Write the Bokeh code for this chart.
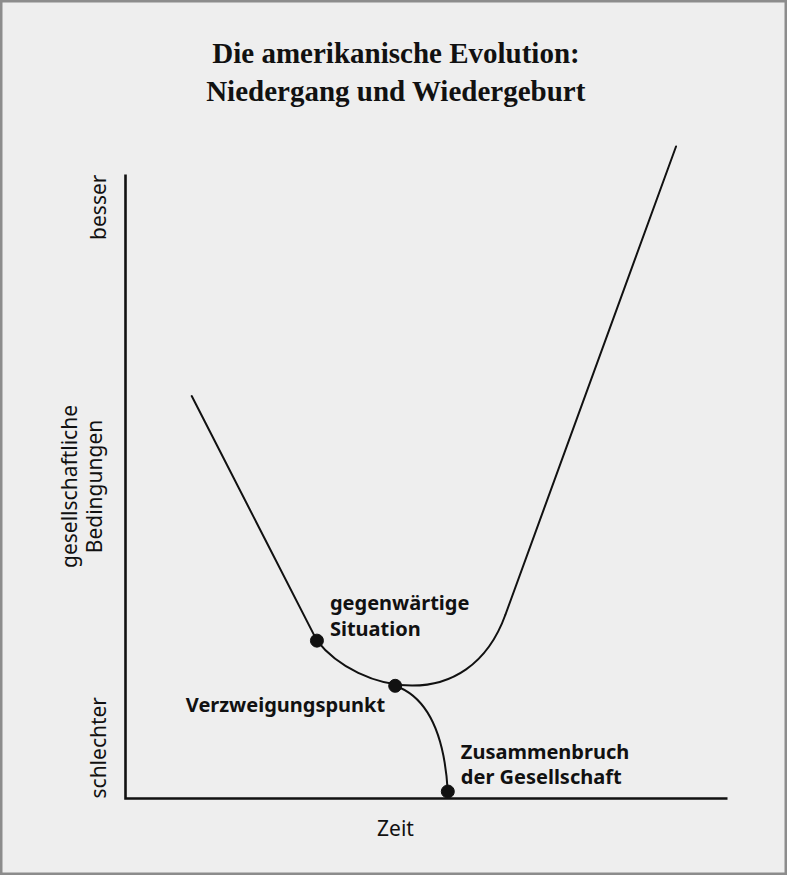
from math import pi
from bokeh.plotting import figure
from bokeh.models import Range1d
from bokeh.core.properties import value
from bokeh.embed import file_html
from bokeh.resources import INLINE

# ---------------- data (time 0..100 along the axis, condition 0..100 up the axis)
axis_time = [0, 100]
axis_cond = [0, 100]

# straight decline down to the present situation
decline_t = [11.0, 31.8]
decline_c = [64.5, 25.3]

# valley: cubic bezier (start, control 1, control 2, end)
valley_t = [31.8, 38.5, 56.98, 63.12]
valley_c = [25.3, 17.0, 12.98, 29.49]

# straight rebirth
rebirth_t = [63.12, 91.45]
rebirth_c = [29.49, 104.49]

# collapse branch: quadratic bezier (start, control, end)
collapse_t = [44.80, 52.66, 53.54]
collapse_c = [18.06, 15.38, 1.12]

# marked points
point_t = [31.8, 44.80, 53.54]
point_c = [25.3, 18.06, 1.12]
point_labels = [["gegenwärtige", "Situation"],
                ["Verzweigungspunkt"],
                ["Zusammenbruch", "der Gesellschaft"]]

y_tick_labels = ["schlechter", "besser"]
y_axis_title = ["gesellschaftliche", "Bedingungen"]
x_axis_title = "Zeit"
title_lines = ["Die amerikanische Evolution:", "Niedergang und Wiedergeburt"]

# ---------------- layout / scale
W, H = 787, 875
PX_T, PX_C = 6.02, 6.24          # pixels per unit
ORIGIN_X, ORIGIN_Y = 125, 798    # canvas position of the axis origin
SHIFT = 8                        # baseline compensation (px)

def tx(px):
    return (px - ORIGIN_X) / PX_T

def cy(py):
    return (ORIGIN_Y - py) / PX_C

INK = "#111111"
BG = "#eeeeee"

p = figure(width=W, height=H, output_backend="svg", toolbar_location=None,
           x_range=Range1d(tx(0), tx(W)), y_range=Range1d(cy(H), cy(0)),
           x_axis_location=None, y_axis_location=None, min_border=0)
p.grid.visible = False
p.background_fill_color = BG
p.border_fill_color = BG
p.outline_line_color = "#8c8c8c"
p.outline_line_width = 4

# axes as one polyline
p.line([axis_time[0], axis_time[0], axis_time[1]],
       [axis_cond[1], axis_cond[0], axis_cond[0]],
       line_color=INK, line_width=2.6, line_join="miter")

# curve
p.line(decline_t, decline_c, line_color=INK, line_width=2, line_cap="round")
p.bezier(x0=[valley_t[0]], y0=[valley_c[0]], x1=[valley_t[3]], y1=[valley_c[3]],
         cx0=[valley_t[1]], cy0=[valley_c[1]], cx1=[valley_t[2]], cy1=[valley_c[2]],
         line_color=INK, line_width=2)
p.line(rebirth_t, rebirth_c, line_color=INK, line_width=2, line_cap="round")
p.quadratic(x0=[collapse_t[0]], y0=[collapse_c[0]], x1=[collapse_t[2]], y1=[collapse_c[2]],
            cx=[collapse_t[1]], cy=[collapse_c[1]], line_color=INK, line_width=2)

p.scatter(point_t, point_c, size=13, color=INK)

# point labels: (x offset px, baseline offsets px downwards, align)
label_layout = [(13, [-30, -4], "left"),
                (-10, [27], "right"),
                (13, [-32, -7], "left")]
for t0, c0, lines, (ox, oys, al) in zip(point_t, point_c, point_labels, label_layout):
    for line, oy in zip(lines, oys):
        p.text(x=[t0 + ox / PX_T], y=[c0 - (oy - SHIFT) / PX_C], text=[line],
               text_font=value("Noto Sans"), text_font_style="bold",
               text_font_size=value("20px"), text_color=INK,
               text_align=al, text_baseline="alphabetic")

AX_FONT = dict(text_font=value("Noto Sans"), text_font_size=value("21px"),
               text_color=INK, text_baseline="alphabetic")

# y "tick" labels at the ends of the axis
p.text(x=[tx(105 - SHIFT)], y=[axis_cond[0]], text=[y_tick_labels[0]], angle=pi / 2,
       text_align="left", **AX_FONT)
p.text(x=[tx(105 - SHIFT)], y=[axis_cond[1]], text=[y_tick_labels[1]], angle=pi / 2,
       text_align="right", **AX_FONT)

# y axis title (two lines)
mid_c = (axis_cond[0] + axis_cond[1]) / 2
p.text(x=[tx(76 - SHIFT)], y=[mid_c], text=[y_axis_title[0]], angle=pi / 2,
       text_align="center", **AX_FONT)
p.text(x=[tx(101 - SHIFT)], y=[mid_c], text=[y_axis_title[1]], angle=pi / 2,
       text_align="center", **AX_FONT)

# x axis title
p.text(x=[tx(395)], y=[cy(835 - SHIFT)], text=[x_axis_title], text_align="center", **AX_FONT)

# title
for line, base in zip(title_lines, [60.5, 98]):
    p.text(x=[tx(W / 2 + 2)], y=[cy(base - SHIFT)], text=[line],
           text_font=value("Liberation Serif"), text_font_style="bold",
           text_font_size=value("29px"), text_color=INK,
           text_align="center", text_baseline="alphabetic")

open("out.html", "w").write(file_html(p, INLINE))
